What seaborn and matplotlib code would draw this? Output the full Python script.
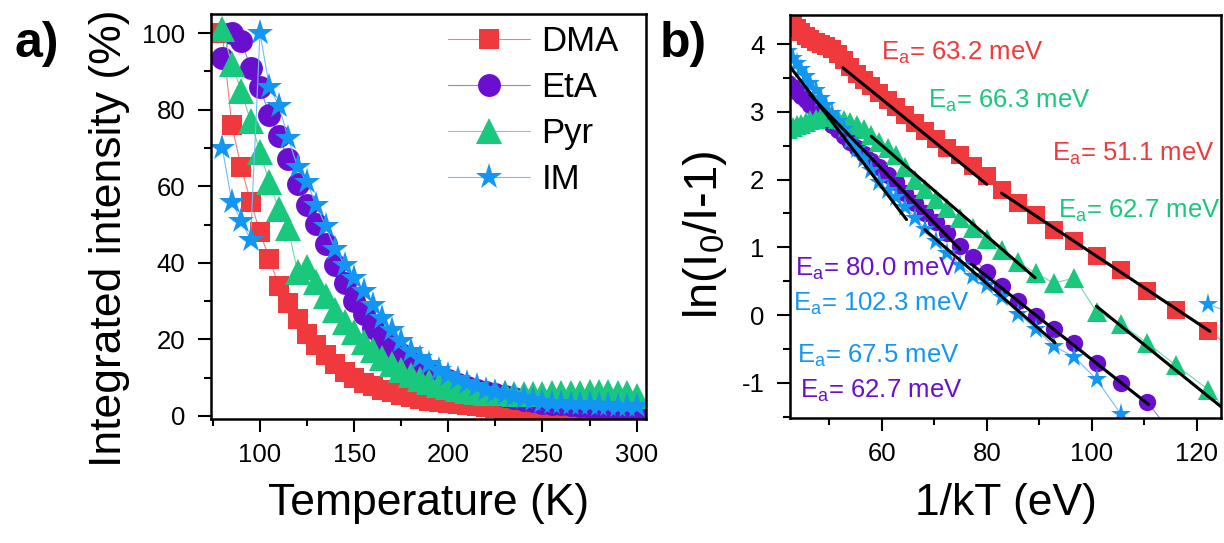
import numpy as np
import pandas as pd
import matplotlib
matplotlib.use("Agg")
import matplotlib.pyplot as plt
from matplotlib.ticker import MultipleLocator
import seaborn as sns

# ---- panel a: integrated intensity vs temperature ----
temp = [80, 85, 90, 95, 100, 105, 110, 115, 120, 125, 130, 135, 140, 145, 150,
        155, 160, 165, 170, 175, 180, 185, 190, 195, 200, 205, 210, 215, 220, 225,
        230, 235, 240, 245, 250, 255, 260, 265, 270, 275, 280, 285, 290, 295, 300]
dma = [100, 76, 65, 56, 48, 41, 34, 29.5, 25.2, 21.5, 18.5, 16.0, 13.6, 11.4, 10.0,
       8.6, 7.8, 6.9, 6.2, 5.5, 5.0, 4.4, 4.0, 3.6, 3.3, 3.0, 2.8, 2.5, 2.3, 2.1,
       1.9, 1.8, 1.7, 1.6, 1.5, 1.4, 1.3, 1.25, 1.2, 1.1, 1.0, 0.95, 0.9, 0.85, 0.8]
eta = [93.5, 100, 98, 91, 86, 78.5, 73, 67, 60.5, 55.2, 50.2, 45, 39.4, 34.7, 29.9,
       26.5, 23, 20.2, 18.1, 16.1, 14.2, 12.3, 11.2, 10.2, 9.3, 8.4, 7.6, 6.9, 6.2, 5.6,
       5.1, 4.6, 4.2, 3.8, 3.5, 3.2, 3.0, 2.8, 2.6, 2.4, 2.3, 2.2, 2.1, 2.0, 1.9]
pyr = [101, 92, 85, 77, 69, 61, 54, 49, 37.5, 39, 35, 31.4, 27.7, 24.6, 21.8,
       19.2, 17.1, 15.2, 13.5, 12.0, 10.8, 9.7, 8.9, 8.2, 7.5, 7.0, 6.6, 6.3, 6.1, 6.0,
       5.9, 5.8, 5.8, 5.8, 5.8, 5.9, 6.0, 6.0, 6.1, 6.2, 6.2, 6.2, 6.1, 5.9, 5.3]
im = [70, 56, 51, 46, 100, 86, 81, 72.5, 65, 61, 55, 49.5, 43.5, 39.5, 36,
      32.5, 29, 25.5, 22.5, 19.5, 17, 15, 13.5, 12, 10.8, 9.6, 8.6, 7.7, 6.9, 6.2,
      5.6, 5.1, 4.6, 4.1, 3.7, 3.5, 3.3, 3.2, 3.1, 3.0, 2.9, 2.8, 2.7, 2.7, 2.6]

# ---- panel b: ln(I0/I-1) vs 1/kT ----
inv_kt = [42.2, 43.0, 43.8, 44.6, 45.5, 46.4, 47.4, 48.4, 49.4, 50.5, 51.6, 52.7, 54.0,
          55.3, 56.6, 58.0, 59.5, 61.1, 62.7, 64.5, 66.3, 68.3, 70.3, 72.5, 74.9, 77.4,
          80.0, 82.9, 86.0, 89.3, 92.8, 96.7, 100.9, 105.5, 110.5, 116.0, 122.2, 128.9]
ln_dma = [4.35, 4.30, 4.24, 4.18, 4.12, 4.07, 4.03, 4.00, 3.97, 3.93, 3.85, 3.76, 3.66,
          3.56, 3.47, 3.38, 3.28, 3.17, 3.07, 2.95, 2.84, 2.72, 2.60, 2.47, 2.36, 2.20,
          2.05, 1.85, 1.66, 1.48, 1.26, 1.09, 0.87, 0.67, 0.35, 0.08, -0.24, -0.60]
ln_eta = [3.42, 3.36, 3.30, 3.24, 3.17, 3.10, 3.03, 2.96, 2.89, 2.81, 2.73, 2.65, 2.56,
          2.47, 2.38, 2.28, 2.18, 2.07, 1.96, 1.80, 1.65, 1.51, 1.37, 1.21, 1.02, 0.85,
          0.63, 0.43, 0.20, -0.01, -0.21, -0.42, -0.71, -1.00, -1.28, -1.82, -2.30, -3.90]
ln_pyr = [2.75, 2.78, 2.80, 2.82, 2.85, 2.88, 2.90, 2.92, 2.93, 2.92, 2.90, 2.88, 2.85,
          2.80, 2.74, 2.66, 2.56, 2.46, 2.36, 2.18, 2.00, 1.86, 1.72, 1.58, 1.44, 1.28,
          1.12, 0.96, 0.78, 0.62, 0.47, 0.55, 0.05, -0.13, -0.41, -0.74, -1.10, -1.70]
ln_im = [3.90, 3.80, 3.72, 3.63, 3.53, 3.43, 3.32, 3.21, 3.10, 2.98, 2.86, 2.74, 2.59,
         2.45, 2.31, 2.14, 1.97, 1.84, 1.74, 1.60, 1.44, 1.27, 1.10, 0.91, 0.74, 0.58,
         0.44, 0.27, 0.02, -0.20, -0.46, -0.62, -0.95, -1.46, -1.82, np.nan, 0.16, -0.04]

# linear fits (black lines) and their labels
fit_x0 = [52.6, 82.8, 58.0, 100.9, 42.0, 46.3, 68.2, 77.1]
fit_x1 = [80.0, 122.5, 89.2, 126.0, 64.7, 74.9, 93.0, 110.8]
fit_y0 = [3.65, 1.80, 2.64, 0.13, 3.72, 3.25, 1.26, 0.75]
fit_y1 = [1.93, -0.24, 0.55, -1.44, 1.41, 0.97, -0.41, -1.32]

ea_vals = ["63.2", "66.3", "51.1", "62.7", "80.0", "102.3", "67.5", "62.7"]
ea_series = ["DMA", "Pyr", "DMA", "Pyr", "EtA", "IM", "IM", "EtA"]
ea_x = [59.9, 68.85, 92.4, 93.6, 43.4, 43.05, 43.8, 44.4]
ea_y = [3.77, 3.06, 2.27, 1.44, 0.575, 0.06, -0.70, -1.22]

names = ["DMA", "EtA", "Pyr", "IM"]
colors = {"DMA": "#F0393C", "EtA": "#6A0FD0", "Pyr": "#19C87C", "IM": "#1396F2"}
line_colors = {"DMA": "#F47C7E", "EtA": "#A678E0", "Pyr": "#6FD9A8", "IM": "#71BDF5"}
markers = {"DMA": "s", "EtA": "o", "Pyr": "^", "IM": "*"}
size_a = {"DMA": 15, "EtA": 16.5, "Pyr": 19, "IM": 20}
size_b = {"DMA": 12.5, "EtA": 12.5, "Pyr": 14.5, "IM": 15.5}

sns.set_style("ticks")
plt.rcParams["font.family"] = ["Liberation Sans", "DejaVu Sans"]
plt.rcParams["mathtext.default"] = "regular"
plt.rcParams["axes.unicode_minus"] = False
plt.rcParams["text.color"] = "black"
plt.rcParams["axes.labelcolor"] = "black"
plt.rcParams["axes.edgecolor"] = "black"
plt.rcParams["xtick.color"] = "black"
plt.rcParams["ytick.color"] = "black"

fig = plt.figure(figsize=(12.24, 5.43), dpi=100)
ax1 = fig.add_axes([0.1724, 0.2284, 0.3554, 0.7459])
ax2 = fig.add_axes([0.6454, 0.2302, 0.3521, 0.7422])

series_a = {"DMA": dma, "EtA": eta, "Pyr": pyr, "IM": im}
for n in names:
    sns.lineplot(x=temp, y=series_a[n], ax=ax1, color=line_colors[n], linewidth=0.8,
                 marker=markers[n], markersize=size_a[n], markerfacecolor=colors[n],
                 markeredgecolor=colors[n], markeredgewidth=0, label=n)

series_b = {"DMA": ln_dma, "EtA": ln_eta, "Pyr": ln_pyr, "IM": ln_im}
for n in names:
    df = pd.DataFrame({"x": inv_kt, "y": series_b[n]})
    df["seg"] = df["y"].isna().cumsum()
    sns.lineplot(data=df, x="x", y="y", units="seg", estimator=None, ax=ax2,
                 color=line_colors[n], linewidth=0.8, marker=markers[n],
                 markersize=size_b[n], markerfacecolor=colors[n],
                 markeredgecolor=colors[n], markeredgewidth=0, legend=False)

for x0, x1, y0, y1 in zip(fit_x0, fit_x1, fit_y0, fit_y1):
    ax2.plot([x0, x1], [y0, y1], color="black", linewidth=2.2, zorder=5)

for v, s, x, y in zip(ea_vals, ea_series, ea_x, ea_y):
    ax2.text(x, y, "E$_a$= " + v + " meV", color=colors[s], fontsize=18.5,
             ha="left", va="baseline", zorder=6)

# axes styling
ax1.set_xlim(74, 305)
ax1.set_ylim(-0.8, 105)
ax1.xaxis.set_major_locator(MultipleLocator(50))
ax1.xaxis.set_minor_locator(MultipleLocator(25))
ax1.yaxis.set_major_locator(MultipleLocator(20))
ax1.yaxis.set_minor_locator(MultipleLocator(10))

ax2.set_xlim(42.5, 124.6)
ax2.set_ylim(-1.52, 4.43)
ax2.xaxis.set_major_locator(MultipleLocator(20))
ax2.xaxis.set_minor_locator(MultipleLocator(10))
ax2.yaxis.set_major_locator(MultipleLocator(1))
ax2.yaxis.set_minor_locator(MultipleLocator(0.5))

for ax in (ax1, ax2):
    for sp in ax.spines.values():
        sp.set_linewidth(1.8)
        sp.set_color("black")
    ax.tick_params(which="major", direction="out", length=9.5, width=1.5,
                   labelsize=18.5, top=False, right=False)
    ax.tick_params(which="minor", direction="out", length=5, width=1.5,
                   top=False, right=False)
    ax.tick_params(axis="x", which="major", pad=8)
    ax.tick_params(axis="y", which="major", pad=9)

ax1.set_xlabel("Temperature (K)", fontsize=32)
ax1.set_ylabel("Integrated intensity (%)", fontsize=32)
ax1.xaxis.set_label_coords(0.5, -0.158)
ax1.yaxis.set_label_coords(-0.186, 0.447)

ax2.set_xlabel("1/kT (eV)", fontsize=32)
ax2.set_ylabel("ln(I$_0$/I-1)", fontsize=34)
ax2.xaxis.set_label_coords(0.5, -0.161)
ax2.yaxis.set_label_coords(-0.142, 0.455)

ax1.legend(loc="upper left", bbox_to_anchor=(0.545, 0.973), frameon=False,
           fontsize=25, handlelength=2.35, handletextpad=0.34, labelspacing=0.38,
           borderpad=0, borderaxespad=0)

fig.text(15 / 1224, 1 - 44 / 543, "a)", fontsize=36, fontweight="bold",
         ha="left", va="center")
fig.text(660 / 1224, 1 - 44 / 543, "b)", fontsize=36, fontweight="bold",
         ha="left", va="center")

fig.savefig("out.png", dpi=100)
